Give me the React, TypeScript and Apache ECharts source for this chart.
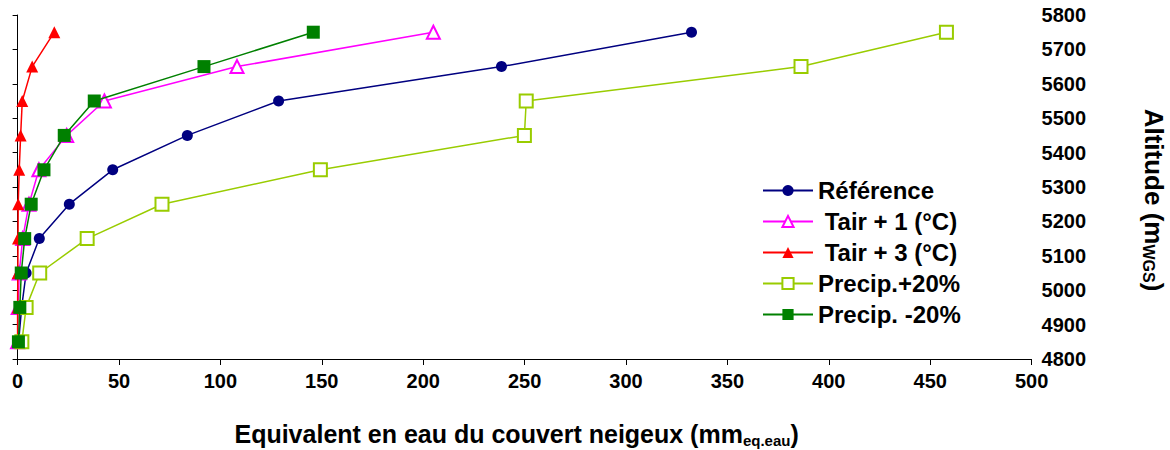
import React, { useEffect, useRef } from "react";
import * as echarts from "echarts";

const altitudes = [4850, 4950, 5050, 5150, 5250, 5350, 5450, 5550, 5650, 5750];
const reference = [0.5, 2, 4.2, 10.7, 25.5, 46.9, 83.7, 128.7, 238.6, 332.3];
const tairPlus1 = [0, 0.3, 0.8, 2.5, 5.6, 10.5, 24.2, 42.8, 108.2, 205];
const tairPlus3 = [0, 0, 0.1, 0.2, 0.3, 0.8, 1.5, 2.3, 7.2, 18.1];
const precipPlus20 = [2.1, 4.2, 10.9, 34.3, 71.2, 149.3, 249.9, 250.8, 386.3, 458];
const precipMinus20 = [0.4, 1.1, 1.8, 3.5, 6.7, 13, 23, 37.8, 91.9, 145.8];

const seriesNames = ["Référence", " Tair + 1 (°C)", " Tair + 3 (°C)", "Precip.+20%", "Precip. -20%"];
const seriesColors = ["#000080", "#FF00FF", "#FF0000", "#99CC00", "#008000"];
const seriesSymbols = ["circle", "emptyTriangle", "triangle", "emptyRect", "rect"];
const seriesSizes = [11, 13, 12, 13, 13];
const seriesValues = [reference, tairPlus1, tairPlus3, precipPlus20, precipMinus20];

const FONT = "Liberation Sans, Arial, sans-serif";

export default function App() {
  const ref = useRef<HTMLDivElement>(null);
  useEffect(() => {
    if (!ref.current) return;
    const chart = echarts.init(ref.current, null, { renderer: "svg" });
    chart.setOption({
      animation: false,
      backgroundColor: "#fff",
      textStyle: { fontFamily: FONT },
      grid: {
        left: 17.6,
        right: 138.4,
        top: 15,
        bottom: 91,
        containLabel: false,
        outerBoundsMode: "none",
      },
      legend: {
        orient: "vertical",
        left: 757,
        top: 173,
        itemWidth: 50,
        itemHeight: 14,
        itemGap: 6,
        textStyle: { fontFamily: FONT, fontWeight: "bold", fontSize: 24, color: "#000", lineHeight: 25 },
        data: seriesNames,
      },
      graphic: [
        {
          type: "text",
          x: 1154,
          y: 200,
          rotation: -Math.PI / 2,
          silent: true,
          style: {
            text: "{b|Altitude (m}{s|WGS}{b|)}",
            align: "center",
            verticalAlign: "middle",
            rich: {
              b: { fontFamily: FONT, fontWeight: "bold", fontSize: 26, fill: "#000", lineHeight: 30 },
              s: { fontFamily: FONT, fontWeight: "bold", fontSize: 16, fill: "#000", padding: [12, 0, 0, 0] },
            },
          },
        },
      ],
      xAxis: {
        type: "value",
        min: 0,
        max: 500,
        interval: 50,
        splitLine: { show: false },
        axisLine: { show: true, lineStyle: { color: "#000", width: 1 } },
        axisTick: { show: true, length: 6, lineStyle: { color: "#000" } },
        axisLabel: { fontFamily: FONT, fontWeight: "bold", fontSize: 20, color: "#000", margin: 12 },
        name: "{b|Equivalent en eau du couvert neigeux (mm}{s|eq.eau}{b|)}",
        nameLocation: "middle",
        nameGap: 61,
        nameTextStyle: {
          padding: [0, 16, 0, 0],
          rich: {
            b: { fontFamily: FONT, fontWeight: "bold", fontSize: 25, color: "#000", lineHeight: 28 },
            s: { fontFamily: FONT, fontWeight: "bold", fontSize: 15, color: "#000", padding: [12, 0, 0, 0] },
          },
        },
      },
      yAxis: {
        type: "value",
        position: "right",
        min: 4800,
        max: 5800,
        interval: 100,
        splitLine: { show: false },
        axisLine: { show: true, lineStyle: { color: "#000", width: 1 } },
        axisTick: { show: true, inside: true, length: 5, lineStyle: { color: "#000" } },
        axisLabel: {
          fontFamily: FONT,
          fontWeight: "bold",
          fontSize: 20,
          color: "#000",
          margin: 10,
          formatter: (v: number) => String(v),
        },
      },
      series: seriesNames.map((name, i) => ({
        name,
        type: "line",
        data: seriesValues[i].map((v, j) => [v, altitudes[j]]),
        symbol: seriesSymbols[i],
        symbolSize: seriesSizes[i],
        showAllSymbol: true,
        lineStyle: { color: seriesColors[i], width: 1.5 },
        itemStyle: { color: seriesColors[i], borderWidth: 2 },
        emphasis: { disabled: true },
        z: 2 + i,
      })),
    });
    return () => chart.dispose();
  }, []);
  return (
    <div
      ref={ref}
      style={{ position: "absolute", left: 0, top: 0, width: 1170, height: 450 }}
    />
  );
}
